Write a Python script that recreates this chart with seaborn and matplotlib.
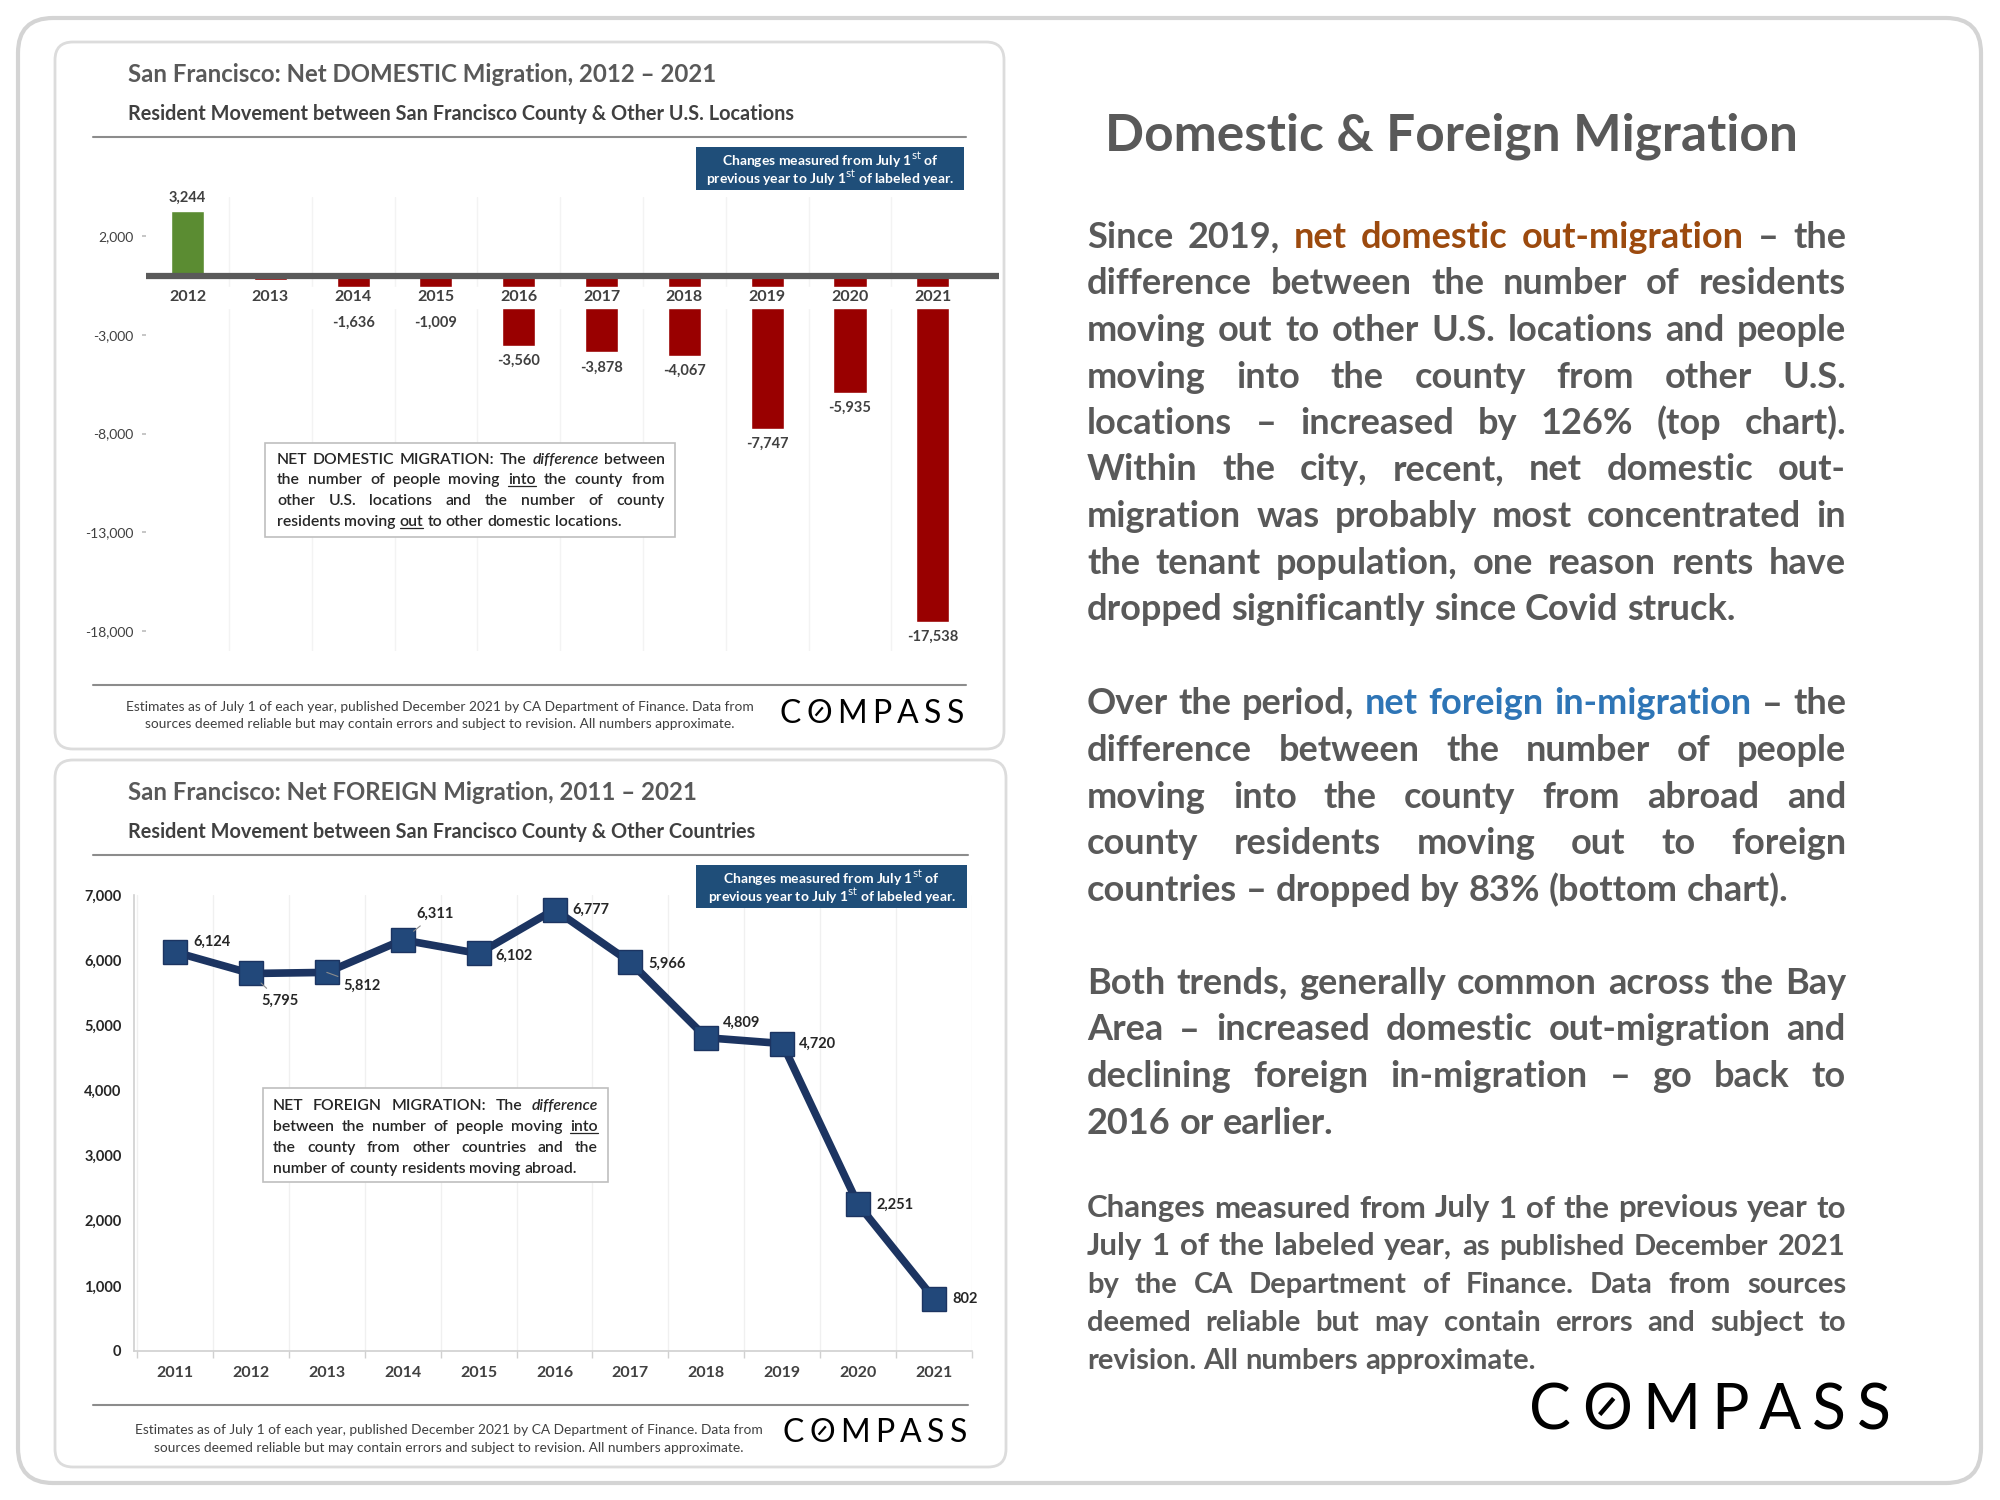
import numpy as np
import pandas as pd
import matplotlib
matplotlib.use('Agg')
import matplotlib.pyplot as plt
from matplotlib.patches import FancyBboxPatch, Rectangle
import seaborn as sns

# ---- data ----
domestic_years = ['2012', '2013', '2014', '2015', '2016', '2017', '2018', '2019', '2020', '2021']
domestic_values = [3244, -250, -1636, -1009, -3560, -3878, -4067, -7747, -5935, -17538]
domestic_labelled = [True, False, True, True, True, True, True, True, True, True]
domestic_ticks = [2000, -3000, -8000, -13000, -18000]

foreign_years = ['2011', '2012', '2013', '2014', '2015', '2016', '2017', '2018', '2019', '2020', '2021']
foreign_values = [6124, 5795, 5812, 6311, 6102, 6777, 5966, 4809, 4720, 2251, 802]
foreign_ticks = [0, 1000, 2000, 3000, 4000, 5000, 6000, 7000]

# label placement for the line chart (pixels, relative to marker)
foreign_label_offsets = [(18, -10), (10, 27), (17, 13), (14, -26), (17, 2), (18, 0),
                         (18, 1), (17, -15), (17, 0), (18, 0), (18, 0)]
foreign_leaders = [False, True, True, True, False, False, False, False, False, False, False]

W, H = 2000, 1500
FONT = ['Lato', 'DejaVu Sans']
GREEN = '#5b8c32'
RED = '#990000'
NAVY = '#1c3461'
BOXBLUE = '#1f4e79'
TXT = '#595959'
DARK = '#404040'

sns.set_theme(style='white')
plt.rcParams['font.family'] = FONT

fig = plt.figure(figsize=(20, 15), dpi=100)
fig.patch.set_facecolor('white')


def pixel_axes(z):
    a = fig.add_axes([0, 0, 1, 1], zorder=z)
    a.set_xlim(0, W)
    a.set_ylim(H, 0)
    a.axis('off')
    return a


def frac(x0, y0, x1, y1):
    return [x0 / W, 1 - y1 / H, (x1 - x0) / W, (y1 - y0) / H]


bg = pixel_axes(0)
fg = pixel_axes(10)
renderer = fig.canvas.get_renderer()


def rbox(ax, x0, y0, x1, y1, r, fc='white', ec='#d9d9d9', lw=2, z=1):
    ax.add_patch(FancyBboxPatch((x0, y0), x1 - x0, y1 - y0,
                                boxstyle=f'round,pad=0,rounding_size={r}',
                                fc=fc, ec=ec, lw=lw, zorder=z))


def text_width(ax, s, **kw):
    t = ax.text(0, 0, s, **kw)
    w = t.get_window_extent(renderer).width
    t.remove()
    return w


def para(ax, lines, x0, x1, y, lh, size, color=TXT, weight='bold', justify_last=False):
    # draws justified lines word by word; segments may carry colour/style/underline/size
    sw = text_width(ax, 'n n', fontsize=size, fontweight=weight) - \
        text_width(ax, 'nn', fontsize=size, fontweight=weight)
    for k, segs in enumerate(lines):
        words = []
        for seg in segs:
            if isinstance(seg, str):
                seg = {'t': seg}
            for w in seg['t'].split():
                words.append({**seg, 't': w})
        placed = []
        total = 0
        for w in words:
            fs = w.get('size', size)
            t = ax.text(0, 0, w['t'], fontsize=fs, color=w.get('color', color),
                        fontweight=weight, fontstyle=w.get('style', 'normal'),
                        va='baseline', ha='left', zorder=12)
            wd = t.get_window_extent(renderer).width
            placed.append((t, wd, w, fs))
            total += wd
        base = y + k * lh + 0.36 * size * 100 / 72
        last = k == len(lines) - 1
        if len(placed) > 1 and (not last or justify_last):
            gap = (x1 - x0 - total) / (len(placed) - 1)
        else:
            gap = sw
        x = x0
        for t, wd, w, fs in placed:
            t.set_position((x, base))
            if w.get('u'):
                yu = base + 0.12 * fs * 100 / 72
                ax.plot([x, x + wd], [yu, yu], color=w.get('color', color), lw=0.9, zorder=12)
            x += wd + gap


def logo(ax, cx, cy, size, track=0.17):
    letters = 'COMPASS'
    em = size * 100 / 72
    ws = [text_width(ax, c, fontsize=size) for c in letters]
    x = cx - (sum(ws) + track * em * (len(letters) - 1)) / 2
    for c, w in zip(letters, ws):
        ax.text(x, cy, c, fontsize=size, color='black', ha='left', va='baseline', zorder=3)
        if c == 'O':
            mid = cy - 0.36 * em
            ax.plot([x + 0.36 * w, x + 0.64 * w], [mid + 0.13 * em, mid - 0.13 * em],
                    color='black', lw=size * 0.07, solid_capstyle='butt', zorder=3)
        x += w + track * em


# ---- frames ----
rbox(bg, 18, 18, 1981, 1483, 35, ec='#d4d4d4', lw=3)
rbox(bg, 55, 42, 1004, 749, 18, ec='#dcdcdc', lw=2, z=2)
rbox(bg, 55, 760, 1006, 1467, 18, ec='#dcdcdc', lw=2, z=2)

# ---- top chart: net domestic migration ----
bg.text(128, 74, 'San Francisco: Net DOMESTIC Migration, 2012 – 2021', fontsize=17.3,
        fontweight='bold', color=TXT, va='center', zorder=3)
bg.text(128, 113.5, 'Resident Movement between San Francisco County & Other U.S. Locations',
        fontsize=14.3, fontweight='bold', color=DARK, va='center', zorder=3)
bg.plot([93, 966], [137, 137], color='#8c8c8c', lw=1.5, zorder=3)
bg.plot([93, 966], [685, 685], color='#8c8c8c', lw=1.5, zorder=3)

ax1 = fig.add_axes(frac(146.1, 196.5, 999, 650.75), zorder=3)
ax1.set_facecolor('none')
dom_df = pd.DataFrame({'year': domestic_years, 'value': domestic_values})
bar_colors = [GREEN if v > 0 else RED for v in domestic_values]
sns.barplot(data=dom_df, x='year', y='value', hue='year', palette=bar_colors, legend=False,
            width=0.4, saturation=1, ax=ax1, zorder=3)
ax1.set_xlim(-0.5, 9.8)
ax1.set_ylim(-19000, 4000)
for b in np.arange(0.5, 9.5, 1):
    ax1.axvline(b, color='#f3f3f3', lw=1, zorder=0)
ax1.axhspan(-1640, -580, color='white', zorder=4)
ax1.axhline(0, color='#5a5a5a', lw=4.5, zorder=5)
for i, yr in enumerate(domestic_years):
    ax1.text(i, -1100, yr, ha='center', va='center', fontsize=11.5, fontweight='bold',
             color=DARK, zorder=6)
for i, v in enumerate(domestic_values):
    if not domestic_labelled[i]:
        continue
    if v > 0:
        ax1.annotate(f'{v:,}', (i, v), xytext=(0, 5), textcoords='offset points',
                     ha='center', va='bottom', fontsize=10.5, fontweight='bold', color=DARK)
    else:
        ax1.annotate(f'{v:,}', (i, min(v, -1640)), xytext=(0, -6), textcoords='offset points',
                     ha='center', va='top', fontsize=10.5, fontweight='bold', color=DARK)
ax1.set_xticks([])
ax1.set_yticks(domestic_ticks, [f'{t:,}' for t in domestic_ticks])
ax1.tick_params(axis='y', length=3, color='#bfbfbf', labelsize=10, labelcolor=DARK, pad=6, left=True)
ax1.set_xlabel('')
ax1.set_ylabel('')
for s in ax1.spines.values():
    s.set_visible(False)

fg.add_patch(Rectangle((696, 147), 268, 43, fc=BOXBLUE, ec='none', zorder=11))
fg.text(830, 160, r'Changes measured from July 1$^{\mathrm{st}}$ of', ha='center', va='center',
        fontsize=10, fontweight='bold', color='white', zorder=12)
fg.text(830, 178, r'previous year to July 1$^{\mathrm{st}}$ of labeled year.', ha='center', va='center',
        fontsize=10, fontweight='bold', color='white', zorder=12)

fg.add_patch(Rectangle((265, 443), 410, 94, fc='white', ec='#bfbfbf', lw=1.2, zorder=11))
para(fg, [['NET DOMESTIC MIGRATION: The', {'t': 'difference', 'style': 'italic'}, 'between'],
          ['the number of people moving', {'t': 'into', 'u': True}, 'the county from'],
          ['other U.S. locations and the number of county'],
          ['residents moving', {'t': 'out', 'u': True}, 'to other domestic locations.']],
     277, 665, 458, 20.8, 11.3, color='#262626', weight='semibold')

bg.text(440, 707, 'Estimates as of July 1 of each year, published December 2021 by CA Department of Finance. Data from',
        ha='center', va='center', fontsize=9.9, color=DARK, zorder=3)
bg.text(440, 724.5, 'sources deemed reliable but may contain errors and subject to revision. All numbers approximate.',
        ha='center', va='center', fontsize=9.9, color=DARK, zorder=3)
logo(bg, 872, 723, 23)

# ---- bottom chart: net foreign migration ----
bg.text(128, 792, 'San Francisco: Net FOREIGN Migration, 2011 – 2021', fontsize=17.3,
        fontweight='bold', color=TXT, va='center', zorder=3)
bg.text(128, 832, 'Resident Movement between San Francisco County & Other Countries',
        fontsize=14.3, fontweight='bold', color=DARK, va='center', zorder=3)
bg.plot([93, 968], [855, 855], color='#8c8c8c', lw=1.5, zorder=3)
bg.plot([93, 968], [1404.5, 1404.5], color='#8c8c8c', lw=1.5, zorder=3)

ax2 = fig.add_axes(frac(134, 895, 972, 1351), zorder=3)
ax2.set_facecolor('none')
pos = np.arange(len(foreign_years))
for_df = pd.DataFrame({'pos': pos, 'value': foreign_values})
sns.lineplot(data=for_df, x='pos', y='value', ax=ax2, color=NAVY, linewidth=5.5, marker='s',
             markersize=17, markerfacecolor='#22487a', markeredgecolor=NAVY,
             markeredgewidth=1, clip_on=False, zorder=4)
ax2.set_xlim(-0.54, 10.46)
ax2.set_ylim(0, 7000)
ax2.set_xticks(pos, foreign_years)
ax2.set_xticks(np.arange(-0.5, 11, 1), minor=True)
ax2.set_yticks(foreign_ticks, [f'{t:,}' for t in foreign_ticks])
ax2.grid(which='minor', axis='x', color='#f0f0f0', lw=1)
ax2.tick_params(axis='x', which='major', length=0, pad=11, labelsize=11.5, labelcolor=DARK)
ax2.tick_params(axis='x', which='minor', length=5, color='#d0d0d0', bottom=True)
ax2.tick_params(axis='y', length=0, pad=9, labelsize=10.5, labelcolor='#262626')
for lab in ax2.get_xticklabels() + ax2.get_yticklabels():
    lab.set_fontweight('bold')
for s in ['top', 'right']:
    ax2.spines[s].set_visible(False)
for s in ['left', 'bottom']:
    ax2.spines[s].set_color('#d0d0d0')
    ax2.spines[s].set_linewidth(1.2)
ax2.set_xlabel('')
ax2.set_ylabel('')
for i, v in enumerate(foreign_values):
    dx, dy = foreign_label_offsets[i]
    arrow = dict(arrowstyle='-', color='#8c8c8c', lw=0.8, shrinkA=2, shrinkB=10) if foreign_leaders[i] else None
    ax2.annotate(f'{v:,}', (i, v), xytext=(dx, -dy), textcoords='offset pixels',
                 ha='left', va='center', fontsize=10.5, fontweight='bold', color='#262626',
                 arrowprops=arrow, zorder=6)

fg.add_patch(Rectangle((696, 865), 271, 43, fc=BOXBLUE, ec='none', zorder=11))
fg.text(831.5, 878, r'Changes measured from July 1$^{\mathrm{st}}$ of', ha='center', va='center',
        fontsize=10, fontweight='bold', color='white', zorder=12)
fg.text(831.5, 896, r'previous year to July 1$^{\mathrm{st}}$ of labeled year.', ha='center', va='center',
        fontsize=10, fontweight='bold', color='white', zorder=12)

fg.add_patch(Rectangle((263, 1088), 345, 94, fc='white', ec='#bfbfbf', lw=1.2, zorder=11))
para(fg, [['NET FOREIGN MIGRATION: The', {'t': 'difference', 'style': 'italic'}],
          ['between the number of people moving', {'t': 'into', 'u': True}],
          ['the county from other countries and the'],
          ['number of county residents moving abroad.']],
     273, 598, 1104.5, 20.9, 11.3, color='#262626', weight='semibold')

bg.text(449, 1430, 'Estimates as of July 1 of each year, published December 2021 by CA Department of Finance. Data from',
        ha='center', va='center', fontsize=9.9, color=DARK, zorder=3)
bg.text(449, 1448, 'sources deemed reliable but may contain errors and subject to revision. All numbers approximate.',
        ha='center', va='center', fontsize=9.9, color=DARK, zorder=3)
logo(bg, 875, 1442, 23)

# ---- right column text ----
bg.text(1105, 136.5, 'Domestic & Foreign Migration', fontsize=37, fontweight='bold', color=TXT,
        va='center', ha='left', zorder=3)

BROWN = '#9c4a0e'
BLUE = '#2e75b6'
X0, X1 = 1087, 1846
para(fg, [['Since 2019,', {'t': 'net domestic out-migration', 'color': BROWN}, '– the'],
          ['difference between the number of residents'],
          ['moving out to other U.S. locations and people'],
          ['moving into the county from other U.S.'],
          ['locations – increased by 126% (top chart).'],
          ['Within the city, recent, net domestic out-'],
          ['migration was probably most concentrated in'],
          ['the tenant population, one reason rents have'],
          ['dropped significantly since Covid struck.']],
     X0, X1, 235, 46.5, 26)
para(fg, [['Over the period,', {'t': 'net foreign in-migration', 'color': BLUE}, '– the'],
          ['difference between the number of people'],
          ['moving into the county from abroad and'],
          ['county residents moving out to foreign'],
          ['countries – dropped by 83% (bottom chart).']],
     X0, X1, 701.5, 46.6, 26)
para(fg, [['Both trends, generally common across the Bay'],
          ['Area – increased domestic out-migration and'],
          ['declining foreign in-migration – go back to'],
          ['2016 or earlier.']],
     X0, X1, 981, 46.5, 26)
para(fg, [[{'t': 'Changes measured from July 1 of the previous year to', 'size': 22.5}],
          [{'t': 'July 1 of the labeled year,', 'size': 22.5}, 'as published December 2021'],
          ['by the CA Department of Finance. Data from sources'],
          ['deemed reliable but may contain errors and subject to'],
          ['revision. All numbers approximate.']],
     X0, X1, 1207, 37.8, 21)

logo(bg, 1710, 1429, 45)

fig.savefig('out.png', dpi=100, facecolor='white')
